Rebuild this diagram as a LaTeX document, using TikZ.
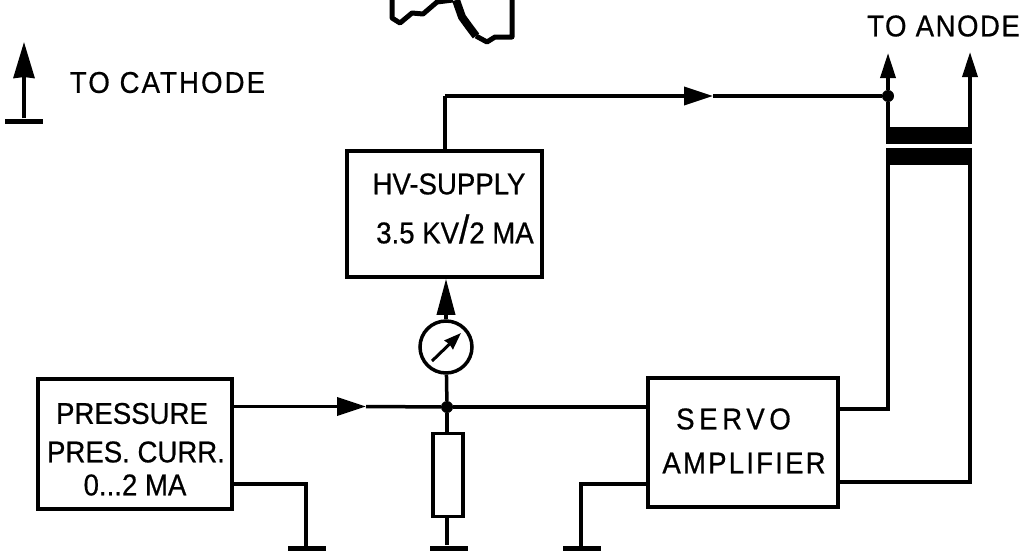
\documentclass[tikz,border=0pt]{standalone}
\usepackage{fontspec}
\setmainfont{Liberation Sans}
\usetikzlibrary{arrows.meta}

\begin{document}
\begin{tikzpicture}[x=1pt, y=-1pt,
    wire/.style={line width=3.5pt},
    smalltip/.style={-{Stealth[length=25pt, width=15pt, inset=0pt]}},
    bigtip/.style={-{Stealth[length=36pt, width=21pt, inset=1pt]}},
    flowtip/.style={-{Stealth[length=29pt, width=18pt, inset=0pt]}},
    block/.style={rectangle, draw, line width=3.5pt, inner sep=0pt},
    lbl/.style={inner sep=0pt, font=\fontsize{30}{30}\selectfont\addfontfeature{FakeStretch=0.92, FakeBold=0.6, LetterSpace=#1}},
    lbl/.default=0,
    gnd/.style={rectangle, fill=black, minimum width=38pt, minimum height=5pt, inner sep=0pt},
    junction/.style={circle, fill=black, minimum size=12pt, inner sep=0pt},
    core/.style={rectangle, fill=black, minimum width=86pt, minimum height=17pt, inner sep=0pt}]
      \useasboundingbox (0, 0) rectangle (1025, 552);

      % blocks
      \node[block, minimum width=195pt, minimum height=126pt] (hv) at (444.5, 214) {};
      \node[block, minimum width=194pt, minimum height=130pt] (press) at (135, 444) {};
      \node[block, minimum width=190pt, minimum height=129pt] (servo) at (743, 442.5) {};
      \node[block, minimum width=30pt, minimum height=83pt] (load) at (448, 475) {};
      \node[circle, draw, line width=3.5pt, minimum size=52pt, inner sep=0pt] (meter) at (446, 347) {};

      % labels
      \node[lbl] (hvone) at (449, 184) {HV-SUPPLY};
      \node[lbl] (hvtwo) at (455, 229) {3.5 KV{\fontsize{40}{40}\selectfont/}2 MA};
      \node[lbl] (pone) at (132, 413.5) {PRESSURE};
      \node[lbl] (ptwo) at (136, 452) {PRES. CURR.};
      \node[lbl] (pthree) at (135, 485) {0...2 MA};
      \node[lbl=15.5] (sone) at (733.5, 419) {SERVO};
      \node[lbl=7.3] (stwo) at (744, 463) {AMPLIFIER};
      \node[lbl=7] (cathode) at (167.5, 82.5) {TO CATHODE};
      \node[lbl=5] (anode) at (943.5, 26) {TO ANODE};

      % junctions, grounds and core
      \node[junction] (topjoin) at (888, 96) {};
      \node[junction] (midjoin) at (447, 407) {};
      \node[gnd] (gndc) at (24, 121) {};
      \node[gnd] (gndp) at (307, 548) {};
      \node[gnd] (gndl) at (449, 548) {};
      \node[gnd] (gnds) at (582, 548) {};
      \node[core] (coreu) at (929, 135.5) {};
      \node[core] (corel) at (929, 156.5) {};

      \coordinate (cathip) at (24, 42);
      \coordinate (hvtop) at (445, 96);
      \coordinate (flowu) at (713, 96);
      \coordinate (flowp) at (366, 406.5);
      \coordinate (anodea) at (888, 53);
      \coordinate (anodeb) at (970, 52);
      \coordinate (outa) at (888, 409);
      \coordinate (outb) at (970, 482);
      \coordinate (ina) at (581, 484);
      \coordinate (pgnd) at (306, 484);

      \path (gndc) edge[wire, bigtip] (cathip);
      \draw[wire] (hv.north -| hvtop) -- (hvtop);
      \draw[wire, flowtip] (hvtop) -- (flowu);
      \draw[wire] (flowu) -- (topjoin);
      \path (topjoin) edge[wire, smalltip] (anodea);
      \draw[wire, smalltip] (coreu.north -| anodeb) -- (anodeb);
      \draw[wire] (topjoin) -- (coreu.north -| topjoin);
      \draw[wire] (corel.south -| outa) -- (outa) -- (servo.east |- outa);
      \draw[wire] (corel.south -| outb) -- (outb) -- (servo.east |- outb);
      \draw[wire, flowtip] (press.east |- flowp) -- (flowp);
      \draw[wire] (flowp) -- (midjoin);
      \draw[wire] (midjoin) -- (servo.west |- midjoin);
      \path (midjoin) edge[wire] (meter);
      \draw[wire] (midjoin) -- (load.north -| midjoin);
      \draw[wire] (load.south -| midjoin) -- (gndl.north -| midjoin);
      \draw[wire, -{Stealth[length=36pt, width=18pt, inset=0pt]}] (meter) -- (hv.south -| meter);
      \draw[wire] (press.east |- pgnd) -- (pgnd) -- (pgnd |- gndp);
      \draw[wire] (servo.west |- ina) -- (ina) -- (ina |- gnds);

      % needle of the meter
      \draw[line width=3pt, -{Stealth[length=17pt, width=12pt, inset=1pt]}] (432, 361) -- (461, 333);

      % torn fragment at the top
      \draw[line width=5pt, line join=round] (392, 0) -- (392, 18) -- (400, 23) -- (412, 13) -- (423, 14) -- (437, 2) -- (453, 0);
      \draw[line width=8pt, line join=round] (456, 0) -- (462, 17) -- (470, 28) -- (476, 36);
      \draw[line width=5pt, line join=round] (476, 36) -- (487, 42) -- (495, 37) -- (512, 37) -- (512, 0);
\end{tikzpicture}
\end{document}
